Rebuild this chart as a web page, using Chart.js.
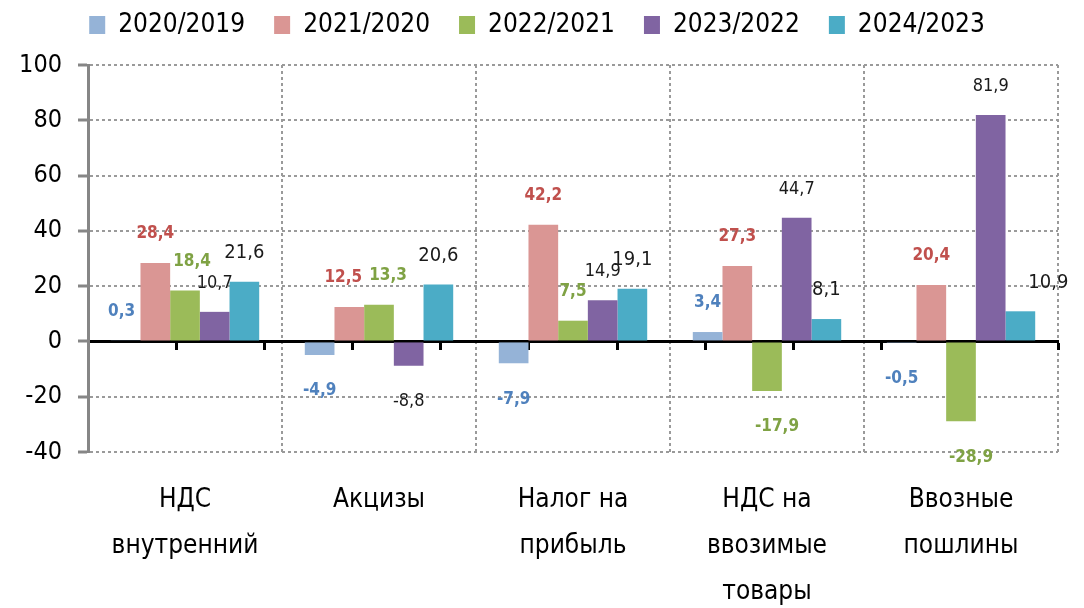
<!DOCTYPE html>
<html>
<head>
<meta charset="utf-8">
<script src="https://cdn.jsdelivr.net/npm/chart.js@4.4.1/dist/chart.umd.min.js"></script>
<style>
  html, body { margin: 0; padding: 0; background: #ffffff; }
  #wrap { width: 1084px; height: 608px; }
</style>
</head>
<body>
<div id="wrap"><canvas id="c" width="1084" height="608"></canvas></div>
<script>
// ---- data ----
const categories = [
  ['НДС', 'внутренний'],
  ['Акцизы'],
  ['Налог на', 'прибыль'],
  ['НДС на', 'ввозимые', 'товары'],
  ['Ввозные', 'пошлины']
];
const seriesNames = ['2020/2019', '2021/2020', '2022/2021', '2023/2022', '2024/2023'];
const s2020_2019 = [0.3, -4.9, -7.9, 3.4, -0.5];
const s2021_2020 = [28.4, 12.5, 42.2, 27.3, 20.4];
const s2022_2021 = [18.4, 13.3, 7.5, -17.9, -28.9];
const s2023_2022 = [10.7, -8.8, 14.9, 44.7, 81.9];
const s2024_2023 = [21.6, 20.6, 19.1, 8.1, 10.9];
const yMin = -40, yMax = 100, yStep = 20;

// ---- styles ----
const FONT = "'Liberation Sans Narrow', 'Arial Narrow', 'DejaVu Sans Condensed', sans-serif";
const barColors = ['#95B3D7', '#DA9694', '#9BBB59', '#8064A2', '#4BACC6'];
const labelColors = ['#4F81BD', '#C0504D', '#7FA244', '#1a1a1a', '#1a1a1a'];
const labelWeights = ['bold', 'bold', 'bold', 'normal', 'normal'];
const labelSizes = [17, 17, 17, 18, 20];
const labelNudgeX = { '2:0': 7, '2:3': 10, '2:4': 10, '4:4': 28, '1:1': -6, '2:1': 9, '0:0': -4 };

const allSeries = [s2020_2019, s2021_2020, s2022_2021, s2023_2022, s2024_2023];
const datasets = allSeries.map((vals, i) => ({
  label: seriesNames[i],
  data: vals,
  backgroundColor: barColors[i],
  borderWidth: 0,
  categoryPercentage: 0.765,
  barPercentage: 1.0
}));

const fmt = v => v.toFixed(1).replace('.', ',');

const valueLabels = {
  id: 'valueLabels',
  afterDatasetsDraw(chart) {
    const ctx = chart.ctx;
    ctx.save();
    ctx.textAlign = 'center';
    ctx.textBaseline = 'middle';
    chart.data.datasets.forEach((ds, di) => {
      const meta = chart.getDatasetMeta(di);
      meta.data.forEach((el, i) => {
        const v = ds.data[i];
        const dx = labelNudgeX[di + ':' + i] || 0;
        const y = v >= 0 ? el.y - 29 : el.y + 36;
        ctx.font = labelWeights[di] + ' ' + labelSizes[di] + 'px ' + FONT;
        ctx.fillStyle = labelColors[di];
        ctx.fillText(fmt(v), el.x + dx, y);
      });
    });
    ctx.restore();
  }
};

// legend: fixed height, centred on the full canvas width
const legendFit = {
  id: 'legendFit',
  beforeLayout(chart) {
    const lg = chart.legend;
    if (lg && !lg._patched) {
      const orig = lg.fit;
      lg.fit = function () { orig.call(this); this.height = 82; };
      lg._patched = true;
    }
  },
  afterLayout(chart) {
    const lg = chart.legend;
    if (lg) { lg.left = 0; lg.right = chart.width - 10; lg.width = chart.width - 10; }
  }
};

new Chart(document.getElementById('c'), {
  type: 'bar',
  data: { labels: categories, datasets },
  options: {
    responsive: false,
    animation: false,
    devicePixelRatio: 1,
    layout: { padding: { top: -17, right: 26, left: 0, bottom: 0 } },
    plugins: {
      legend: {
        position: 'top',
        align: 'center',
        labels: {
          boxWidth: 16,
          boxHeight: 18,
          padding: 29,
          color: '#000',
          font: { family: FONT, size: 26 }
        }
      },
      tooltip: { enabled: false }
    },
    scales: {
      x: {
        type: 'category',
        position: 'bottom',
        offset: true,
        grid: {
          display: true,
          offset: true,
          drawTicks: false,
          color: '#9a9a9a',
          lineWidth: 2
        },
        border: { display: false, dash: [3, 3] },
        ticks: {
          color: '#000',
          padding: 25,
          maxRotation: 0,
          autoSkip: false,
          font: { family: FONT, size: 26, lineHeight: 1.78 }
        },
        afterFit(scale) { scale.height = 156; }
      },
      zeroAxis: {
        type: 'linear',
        axis: 'x',
        position: { y: 0 },
        min: 0,
        max: 10,
        z: 1,
        ticks: { display: false, stepSize: 1 },
        grid: {
          drawOnChartArea: false,
          drawTicks: true,
          tickLength: 7,
          tickWidth: 3,
          tickColor: '#000'
        },
        border: { display: true, color: '#000', width: 3 }
      },
      y: {
        min: yMin,
        max: yMax,
        ticks: {
          stepSize: yStep,
          color: '#000',
          padding: 16,
          font: { family: FONT, size: 25 }
        },
        grid: {
          color: ctx => (ctx.tick && ctx.tick.value === 0) ? 'rgba(0,0,0,0)' : '#9a9a9a',
          lineWidth: 2,
          drawTicks: true,
          tickLength: 10,
          tickColor: '#868686',
          tickWidth: 3,
          tickBorderDash: []
        },
        border: { display: true, color: '#868686', width: 3, dash: [3, 3] },
        afterFit(scale) { scale.width = 88; }
      }
    }
  },
  plugins: [legendFit, valueLabels]
});
</script>
</body>
</html>
